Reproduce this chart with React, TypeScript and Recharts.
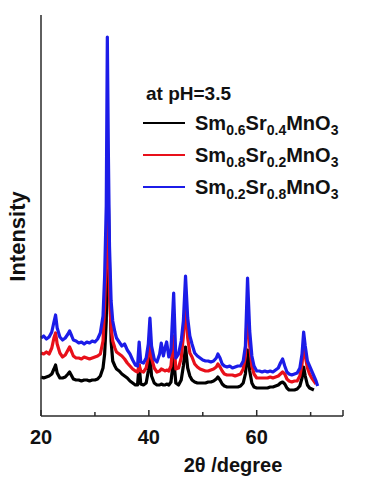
import { LineChart, Line, XAxis, YAxis, Label } from "recharts";

// 2θ positions (degree) shared by the three patterns
const twoTheta = [
  20, 20.5, 21, 21.5, 22, 22.4, 22.7, 23, 23.5, 24,
  24.5, 25, 25.3, 25.7, 26, 26.5, 27, 27.5, 28, 28.5,
  29, 29.5, 30, 30.5, 31, 31.5, 31.8, 32.1, 32.3, 32.5,
  32.7, 33, 33.3, 33.7, 34, 34.5, 35, 35.5, 36, 36.5,
  37, 37.5, 37.9, 38.2, 38.5, 39, 39.5, 39.9, 40.2, 40.5,
  41, 41.5, 42, 42.3, 42.7, 43, 43.3, 43.7, 44.1, 44.6,
  45, 45.5, 46, 46.4, 46.8, 47.2, 47.6, 48, 48.5, 49,
  49.5, 50, 50.5, 51, 51.5, 52, 52.5, 52.8, 53.2, 53.6,
  54, 54.5, 55, 55.5, 56, 56.5, 57, 57.5, 57.9, 58.3,
  58.7, 59.1, 59.5, 60, 60.5, 61, 61.5, 62, 62.5, 63,
  63.5, 64, 64.4, 64.8, 65.2, 65.6, 66, 66.5, 67, 67.5,
  68, 68.4, 68.7, 69, 69.4, 69.8, 70.2, 70.6, 71, 71.3,
];

// Sm0.6Sr0.4MnO3 (black)
const sm06 = [
  39, 38, 39, 40, 42, 47, 51, 43, 38, 38,
  39, 42, 44, 40, 37, 36, 36, 35, 36, 36,
  35, 36, 36, 37, 40, 48, 62, 95, 160, 211,
  150, 75, 55, 50, 47, 45, 42, 40, 38, 35,
  33, 31, 31, 51, 32, 31, 33, 45, 61, 40,
  33, 31, 31, 32, 31, 31, 32, 31, 34, 58,
  33, 31, 36, 50, 69, 48, 40, 36, 34, 33,
  33, 33, 33, 34, 34, 35, 37, 39, 36, 32,
  30, 29, 29, 29, 29, 29, 30, 33, 42, 66,
  45, 33, 29, 28, 28, 28, 28, 28, 29, 29,
  30, 31, 33, 34, 32, 28, 26, 26, 26, 27,
  30, 38, 49, 40, 31, 28, 27, 26, null, null,
];

// Sm0.8Sr0.2MnO3 (red)
const sm08 = [
  63, 62, 64, 62, 68, 78, 83, 72, 63, 59,
  61, 66, 69, 64, 60, 58, 58, 57, 59, 58,
  57, 58, 59, 60, 62, 75, 110, 160, 226, 190,
  120, 88, 75, 68, 64, 62, 60, 57, 53, 50,
  47, 45, 44, 51, 45, 44, 48, 60, 79, 58,
  48, 44, 45, 47, 46, 45, 46, 45, 50, 80,
  47, 48, 58, 80, 110, 78, 63, 59, 52, 49,
  47, 46, 45, 45, 46, 47, 49, 52, 49, 45,
  42, 41, 41, 41, 40, 41, 42, 47, 60, 112,
  70, 50, 42, 38, 38, 38, 38, 38, 39, 38,
  39, 40, 42, 44, 42, 37, 35, 34, 35, 35,
  40, 52, 72, 60, 48, 42, 38, 35, 32, null,
];

// Sm0.2Sr0.8MnO3 (blue)
const sm02 = [
  78, 80, 77, 79, 84, 94, 101, 88, 79, 76,
  78, 82, 85, 80, 76, 75, 73, 74, 72, 74,
  73, 75, 74, 77, 83, 100, 140, 210, 379, 260,
  170, 115, 95, 84, 78, 74, 70, 72, 66, 62,
  56, 51, 50, 74, 54, 53, 58, 72, 98, 70,
  57, 54, 62, 73, 60, 68, 74, 59, 66, 123,
  58, 62, 75, 95, 140, 98, 80, 72, 63, 60,
  58, 56, 55, 55, 54, 55, 58, 62, 58, 52,
  50, 49, 50, 48, 49, 50, 50, 55, 70, 138,
  85, 60, 50, 45, 45, 44, 45, 44, 45, 44,
  46, 48, 53, 57, 50, 44, 42, 41, 42, 43,
  48, 62, 84, 70, 55, 50, 45, 40, 35, 30,
];

const xTicks = [20, 30, 40, 50, 60, 70, 76];
const xTickLabels = [20, 40, 60];

const data = twoTheta.map((x, i) => ({ x, sm06: sm06[i], sm08: sm08[i], sm02: sm02[i] }));

const series = [
  { key: "sm06", color: "#000000", parts: [["Sm", "0.6"], ["Sr", "0.4"], ["MnO", "3"]] },
  { key: "sm08", color: "#e8101a", parts: [["Sm", "0.8"], ["Sr", "0.2"], ["MnO", "3"]] },
  { key: "sm02", color: "#1c1ce8", parts: [["Sm", "0.2"], ["Sr", "0.8"], ["MnO", "3"]] },
];

const font = "'Liberation Sans', Arial, sans-serif";
const axisColor = "#2a2a2a";

function XTick(props: any) {
  const { x, y, payload } = props;
  const v = payload.value;
  const len = v % 20 === 0 || v === 76 ? 6 : 4;
  return (
    <g>
      <line x1={x} x2={x} y1={y} y2={y - len} stroke={axisColor} strokeWidth={1.5} />
      {xTickLabels.includes(v) && (
        <text x={x} y={y + 28} textAnchor="middle" fontFamily={font} fontWeight="bold" fontSize={20} fill="#111">
          {v}
        </text>
      )}
    </g>
  );
}

function LegendBox() {
  return (
    <div style={{ position: "absolute", left: 143, top: 82, fontFamily: font, fontWeight: "bold", color: "#111" }}>
      <div style={{ fontSize: 19, marginLeft: 3, lineHeight: "24px", marginBottom: 1 }}>at pH=3.5</div>
      {series.map((s) => (
        <div key={s.key} style={{ display: "flex", alignItems: "center", height: 32 }}>
          <span style={{ display: "inline-block", width: 42, height: 1.6, background: s.color, marginRight: 10 }} />
          <span style={{ fontSize: 20, whiteSpace: "nowrap" }}>
            {s.parts.map(([t, sub]) => (
              <span key={t}>
                {t}
                <span style={{ fontSize: 14, position: "relative", top: 5 }}>{sub}</span>
              </span>
            ))}
          </span>
        </div>
      ))}
    </div>
  );
}

export default function App() {
  return (
    <div style={{ position: "absolute", left: 0, top: 0, width: 379, height: 480, background: "#fff" }}>
      <LineChart width={379} height={480} data={data} margin={{ top: 15, right: 36, bottom: 34, left: 1 }}>
        <XAxis
          dataKey="x"
          type="number"
          domain={[20, 76]}
          ticks={xTicks}
          tickSize={0}
          tickMargin={0}
          tick={<XTick />}
          height={30}
          axisLine={{ stroke: axisColor, strokeWidth: 1.5 }}
          tickLine={false}
          interval={0}
        >
          <Label
            content={(p: any) => (
              <text
                x={p.viewBox.x + p.viewBox.width / 2 + 41}
                y={p.viewBox.y + 56}
                textAnchor="middle"
                fontFamily={font}
                fontWeight="bold"
                fontSize={20}
                fill="#111"
              >
                2θ /degree
              </text>
            )}
          />
        </XAxis>
        <YAxis
          type="number"
          domain={[0, 401]}
          width={40}
          tick={false}
          tickLine={false}
          axisLine={{ stroke: axisColor, strokeWidth: 1.5 }}
        >
          <Label
            content={(p: any) => {
              const cx = p.viewBox.x + 24;
              const cy = p.viewBox.y + p.viewBox.height / 2 + 21;
              return (
                <text
                  x={cx}
                  y={cy}
                  transform={`rotate(-90 ${cx} ${cy})`}
                  textAnchor="middle"
                  fontFamily={font}
                  fontWeight="bold"
                  fontSize={22}
                  fill="#111"
                >
                  Intensity
                </text>
              );
            }}
          />
        </YAxis>
        {series.map((s) => (
          <Line
            key={s.key}
            type="linear"
            dataKey={s.key}
            stroke={s.color}
            strokeWidth={3.2}
            strokeLinejoin="round"
            dot={false}
            connectNulls={false}
            isAnimationActive={false}
          />
        ))}
      </LineChart>
      <LegendBox />
    </div>
  );
}
